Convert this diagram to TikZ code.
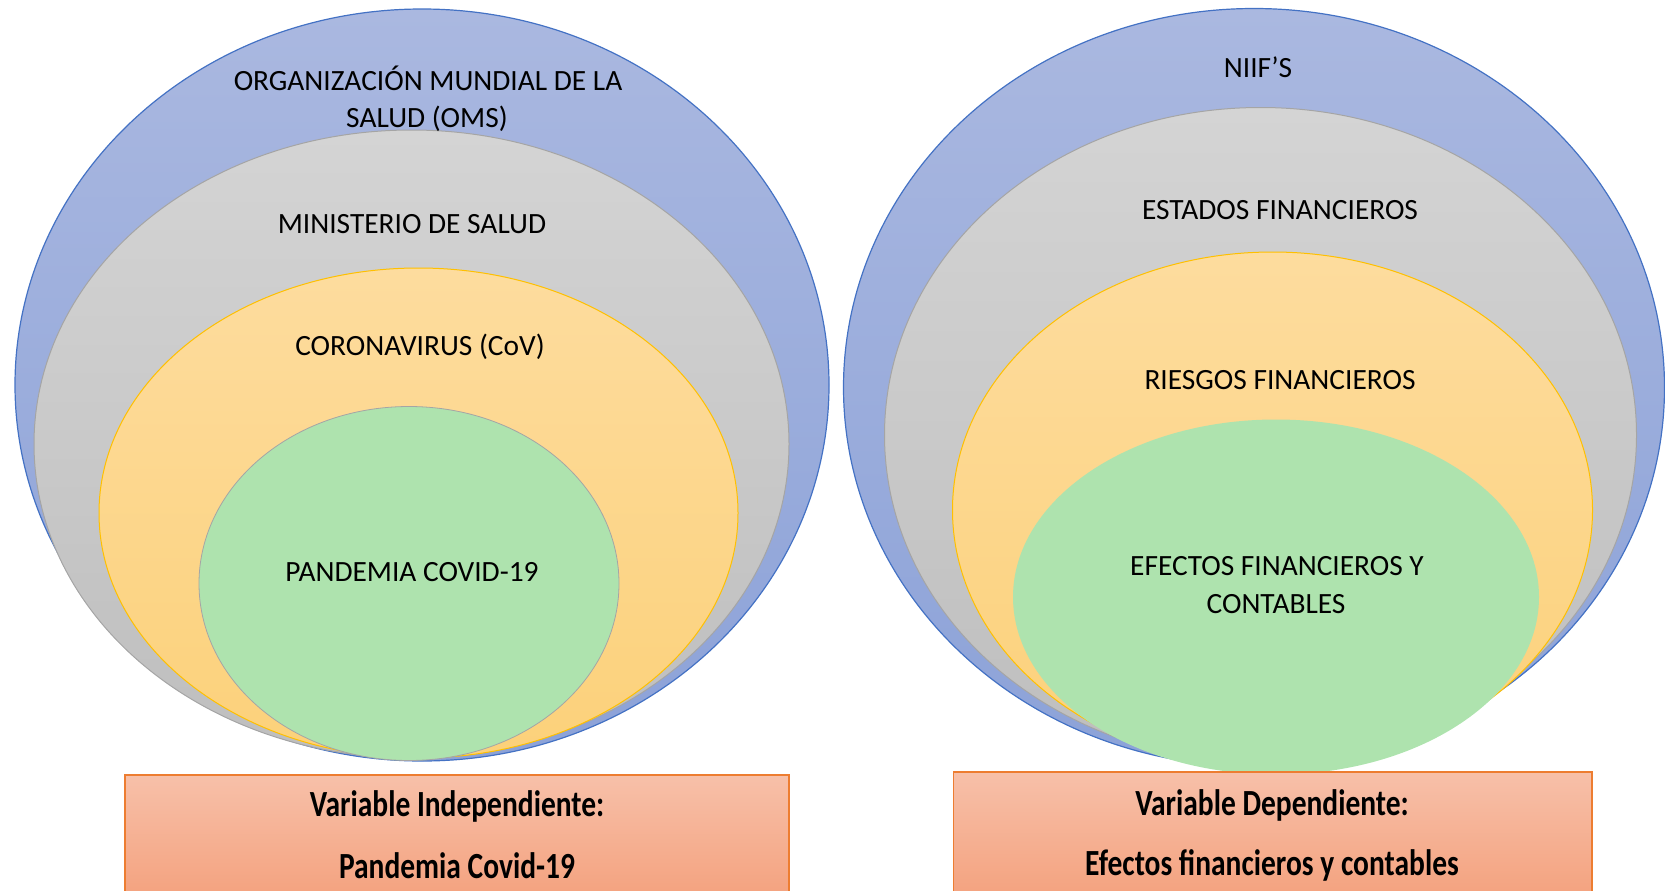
\documentclass[tikz,border=0pt]{standalone}
\usepackage{fontspec}
\setmainfont{Carlito}
\definecolor{blueE}{RGB}{68,114,196}
\definecolor{blueT}{RGB}{170,184,224}
\definecolor{blueB}{RGB}{140,162,216}
\definecolor{grayE}{RGB}{165,165,165}
\definecolor{grayT}{RGB}{212,212,212}
\definecolor{grayB}{RGB}{190,190,190}
\definecolor{yelE}{RGB}{255,192,0}
\definecolor{yelT}{RGB}{253,220,158}
\definecolor{yelB}{RGB}{252,209,122}
\definecolor{grnF}{RGB}{174,227,174}
\definecolor{boxE}{RGB}{237,125,49}
\definecolor{boxT}{RGB}{247,192,169}
\definecolor{boxB}{RGB}{244,163,128}
\tikzset{
  blueell/.style={draw=blueE, line width=1.2bp, top color=blueT, bottom color=blueB},
  grayell/.style={draw=grayE, line width=1bp, top color=grayT, bottom color=grayB},
  yelell/.style={draw=yelE, line width=1bp, top color=yelT, bottom color=yelB},
  grnell/.style={draw=grayE, line width=0.8bp, fill=grnF},
  grnnoline/.style={fill=grnF},
  varbox/.style={draw=boxE, line width=1.2bp, top color=boxT, bottom color=boxB},
  lbl/.style={font=\fontsize{29.5}{37}\selectfont, align=center, inner sep=0pt, text=black},
  blbl/.style={font=\fontsize{37}{40}\selectfont\bfseries, inner sep=0pt, text=black, xscale=0.8, transform shape}
}
\begin{document}
\begin{tikzpicture}[x=1bp,y=-1bp]
\useasboundingbox (0,0) rectangle (1665,890);
% left set
\path[blueell] (422,385) ellipse [x radius=407, y radius=376];
\path[grayell] (411.5,444) ellipse [x radius=377.5, y radius=314];
\path[yelell] (418.5,513) ellipse [x radius=319.5, y radius=245];
\path[grnell] (409,583.5) ellipse [x radius=210, y radius=177];
% right set
\path[blueell] (1254,387.5) ellipse [x radius=410.5, y radius=379];
\path[grayell] (1260.5,435) ellipse [x radius=376, y radius=327.5];
\path[yelell] (1272.5,510) ellipse [x radius=320, y radius=258];
\path[grnnoline] (1276,597) ellipse [x radius=263, y radius=177.5];
% labels left
\node[lbl] (oms1) at (428,78) {ORGANIZACIÓN MUNDIAL DE LA};
\node[lbl] (oms2) at (427,119) {SALUD (OMS)};
\node[lbl] (min) at (412,224) {MINISTERIO DE SALUD};
\node[lbl] (cov) at (420,347) {CORONAVIRUS (CoV)};
\node[lbl] (pan) at (412,572) {PANDEMIA COVID-19};
% labels right
\node[lbl] (niif) at (1258,67) {NIIF’S};
\node[lbl] (est) at (1280,210) {ESTADOS FINANCIEROS};
\node[lbl] (rie) at (1280,380) {RIESGOS FINANCIEROS};
\node[lbl] (efe1) at (1277,566) {EFECTOS FINANCIEROS Y};
\node[lbl] (efe2) at (1276,604) {CONTABLES};
% boxes
\path[varbox] (125,775) rectangle (789,893);
\path[varbox] (953.5,772) rectangle (1592,893);
\node[blbl] (vi1) at (457,806) {Variable Independiente:};
\node[blbl] (vi2) at (457,866) {Pandemia Covid-19};
\node[blbl] (vd1) at (1272,805) {Variable Dependiente:};
\node[blbl] (vd2) at (1272,865) {Efectos financieros y contables};
\end{tikzpicture}
\end{document}
